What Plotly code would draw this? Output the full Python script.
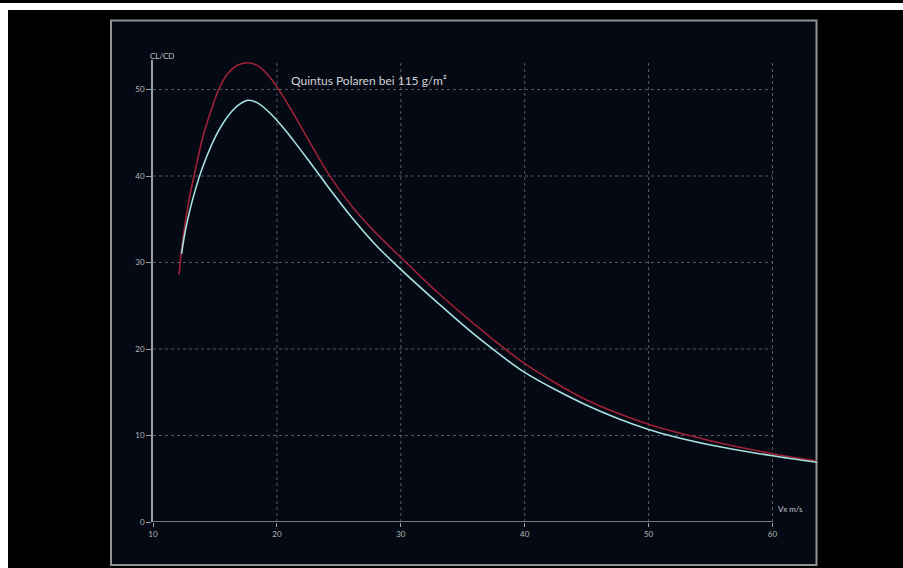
import plotly.graph_objects as go

# ---- data ----
red_x = [12.1, 12.4, 12.9, 13.4, 14.0, 14.6, 15.3, 16.0, 16.8, 17.6, 18.5, 19.5, 20.5, 21.5, 22.5,
         24, 26, 28, 30, 33, 36, 40, 45, 50, 55, 60, 63.6]
red_y = [28.6, 32.6, 37.2, 40.6, 44.4, 47.2, 50.0, 51.8, 52.8, 53.1, 52.7, 51.3, 49.2, 46.8, 44.3,
         40.6, 36.6, 33.4, 30.6, 26.5, 22.8, 18.3, 14.1, 11.3, 9.4, 7.9, 7.05]
cyan_x = [12.3, 12.6, 13.0, 13.5, 14.0, 14.7, 15.4, 16.2, 17.0, 17.7, 18.5, 19.5, 20.5, 21.5, 22.5,
          24, 26, 28, 30, 33, 36, 40, 45, 50, 55, 60, 63.6]
cyan_y = [31.0, 33.6, 36.2, 38.8, 41.0, 43.5, 45.5, 47.2, 48.3, 48.75, 48.4, 47.2, 45.6, 43.8, 41.9,
          39.0, 35.3, 32.0, 29.2, 25.3, 21.6, 17.3, 13.5, 10.7, 8.9, 7.65, 6.9]
x_ticks = [10, 20, 30, 40, 50, 60]
y_ticks = [0, 10, 20, 30, 40, 50]
title_text = "Quintus Polaren bei 115 g/m²"
y_label = "CL/CD"
x_label = "Vx m/s"

# ---- layout geometry ----
W, H = 903, 568
ML, MR, MT, MB = 153, 86, 60, 46
PW, PH = W - ML - MR, H - MT - MB
X_MAX = 10 + PW / 12.39
Y_MAX = PH / 8.65


def px(x):
    return (x - ML) / PW


def py(y):
    return (H - MB - y) / PH


fig = go.Figure()
fig.add_trace(go.Scatter(x=red_x, y=red_y, mode="lines",
                         line=dict(color="#9e2237", width=1.6, shape="spline", smoothing=0.8),
                         hoverinfo="skip", showlegend=False))
fig.add_trace(go.Scatter(x=cyan_x, y=cyan_y, mode="lines",
                         line=dict(color="#a8e2e2", width=1.6, shape="spline", smoothing=0.8),
                         hoverinfo="skip", showlegend=False))

shapes = []
# white strips of the photo
shapes.append(dict(type="rect", xref="paper", yref="paper", x0=px(0), x1=px(W), y0=py(10), y1=py(3),
                   fillcolor="white", line=dict(width=0), layer="below"))
shapes.append(dict(type="rect", xref="paper", yref="paper", x0=px(0), x1=px(8), y0=py(H), y1=py(10),
                   fillcolor="white", line=dict(width=0), layer="below"))
# frame
shapes.append(dict(type="rect", xref="paper", yref="paper", x0=px(111), x1=px(816.5), y0=py(565), y1=py(20.5),
                   fillcolor="#040913", line=dict(color="#8d9297", width=2), layer="below"))
grid_col = "rgba(150,155,165,0.55)"
for xv in x_ticks[1:]:
    shapes.append(dict(type="line", xref="x", yref="y", x0=xv, x1=xv, y0=0, y1=Y_MAX,
                       line=dict(color=grid_col, width=1, dash="dot"), layer="below"))
for yv in y_ticks[1:]:
    shapes.append(dict(type="line", xref="x", yref="y", x0=x_ticks[0], x1=x_ticks[-1], y0=yv, y1=yv,
                       line=dict(color=grid_col, width=1, dash="dot"), layer="below"))
# x axis line (only up to last tick)
shapes.append(dict(type="line", xref="x", yref="y", x0=x_ticks[0], x1=x_ticks[-1], y0=0, y1=0,
                   line=dict(color="#9ba0a6", width=1.6), layer="below"))

font_fam = "Lato, DejaVu Sans, sans-serif"
tick_font = dict(family=font_fam, size=8, color="#b4b8bd")
fig.update_layout(
    width=W, height=H,
    margin=dict(l=ML, r=MR, t=MT, b=MB, pad=0),
    paper_bgcolor="black", plot_bgcolor="rgba(0,0,0,0)",
    shapes=shapes,
    xaxis=dict(range=[10, X_MAX], tickvals=x_ticks, ticktext=[str(v) for v in x_ticks], showgrid=False,
               zeroline=False, showline=False, ticks="outside", ticklen=4, tickcolor="#9ba0a6", tickwidth=1,
               tickfont=tick_font),
    yaxis=dict(range=[0, Y_MAX], tickvals=y_ticks, ticktext=[str(v) for v in y_ticks], showgrid=False,
               zeroline=False, showline=True, linecolor="#9ba0a6", linewidth=1.6, ticks="outside", ticklen=5,
               tickcolor="#9ba0a6", tickwidth=1, tickfont=tick_font),
    annotations=[
        dict(text=y_label, xref="paper", yref="paper", x=px(162), y=py(56), xanchor="center", yanchor="middle",
             showarrow=False, font=dict(family=font_fam, size=8, color="#c4c8cc")),
        dict(text=x_label, xref="paper", yref="paper", x=px(790), y=py(509), xanchor="center", yanchor="middle",
             showarrow=False, font=dict(family=font_fam, size=8, color="#c4c8cc")),
        dict(text=title_text, xref="paper", yref="paper", x=px(368.5), y=py(80.5), xanchor="center",
             yanchor="middle", showarrow=False, font=dict(family=font_fam, size=12, color="#d2d4d6")),
    ],
)
fig.write_html("out.html", config={"displayModeBar": False},
               post_script="document.body.style.margin='0';document.body.style.overflow='hidden';")
